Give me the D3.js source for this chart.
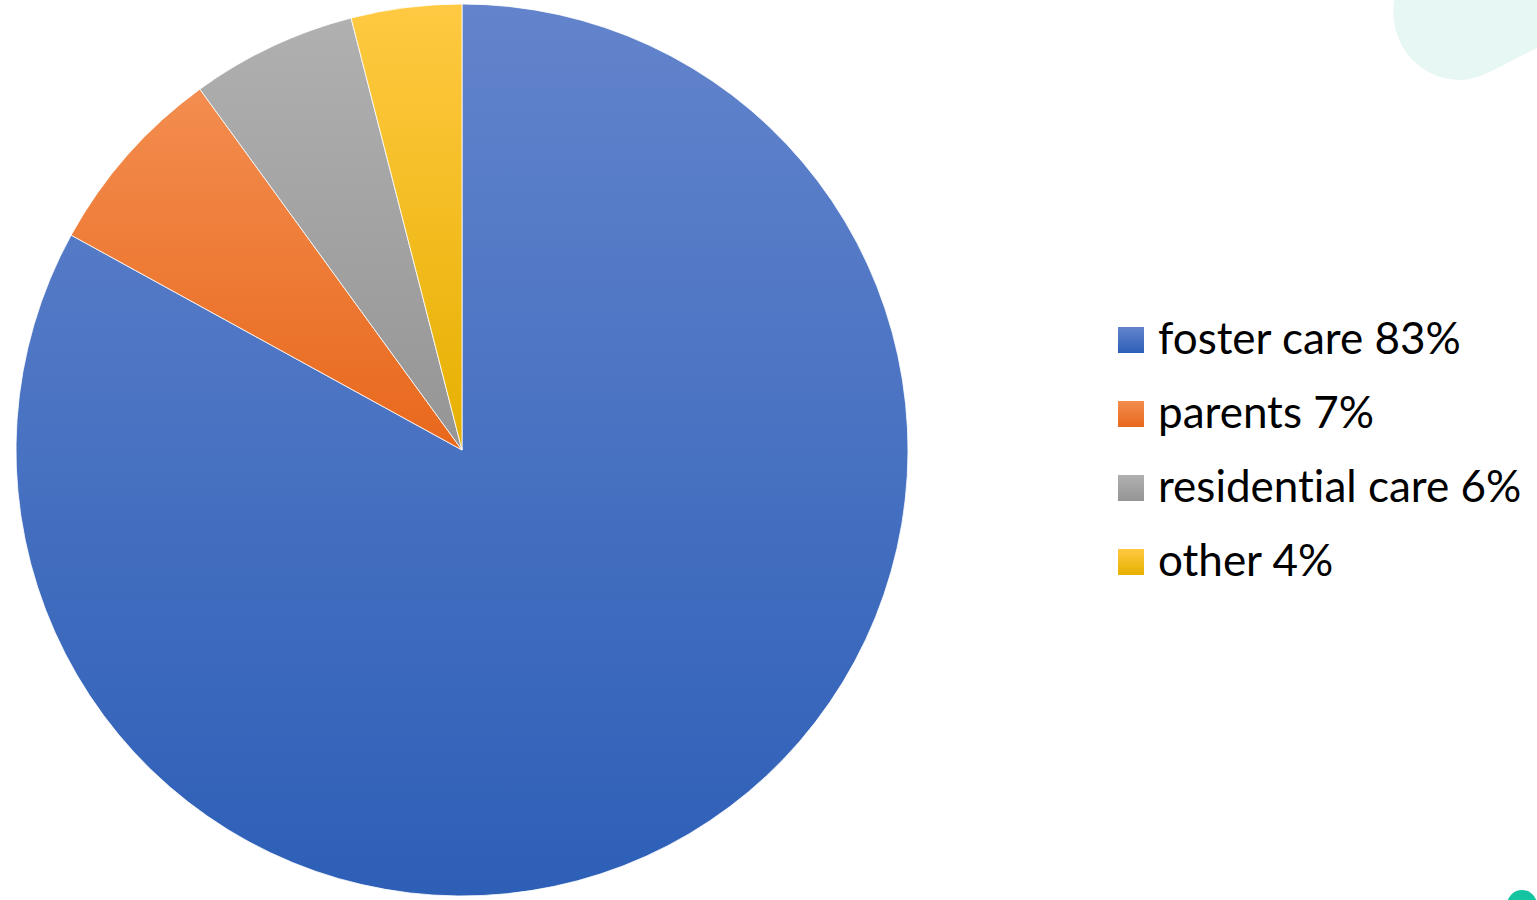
<!DOCTYPE html>
<html>
<head>
<meta charset="utf-8">
<script src="https://cdn.jsdelivr.net/npm/d3@7"></script>
<style>
  body { margin: 0; background: #fff; overflow: hidden; }
  svg { display: block; }
  text { font-variant-ligatures: none; font-feature-settings: "liga" 0, "clig" 0; }
</style>
</head>
<body>
<div id="chart-area"></div>
<script>
// data
const categories = ["foster care", "parents", "residential care", "other"];
const shares = [83, 7, 6, 4];
const legendLabels = ["foster care 83%", "parents 7%", "residential care 6%", "other 4%"];
// top / bottom colours of each slice gradient
const topColors = ["#6384cc", "#f38d4f", "#b0b0b0", "#ffc942"];
const bottomColors = ["#2d5fb7", "#e8681c", "#959595", "#e6b000"];

const canvasWidth = 1537;
const canvasHeight = 900;
const cx = 462, cy = 450, radius = 446;

var svg = d3.select("#chart-area")
    .append("svg")
        .attr("width", canvasWidth)
        .attr("height", canvasHeight);

var defs = svg.append("defs");

// gradients (vertical, light at the top)
categories.forEach((c, i) => {
    var g = defs.append("linearGradient")
        .attr("id", "grad" + i)
        .attr("x1", 0).attr("y1", 0)
        .attr("x2", 0).attr("y2", 1);
    g.append("stop").attr("offset", "0%").attr("stop-color", topColors[i]);
    g.append("stop").attr("offset", "100%").attr("stop-color", bottomColors[i]);
});

// decoration top right
svg.append("path")
    .attr("d", "M1394,0 C1388,45 1420,80 1460,80 C1480,80 1500,66 1537,48 L1537,0 Z")
    .attr("fill", "#e7f7f3");

// decoration bottom right
svg.append("circle")
    .attr("cx", 1522).attr("cy", 905).attr("r", 15)
    .attr("fill", "#14c3a0");

// pie
var pie = d3.pie().sort(null).value(d => d);
var arc = d3.arc().innerRadius(0).outerRadius(radius);

var main = svg.append("g")
    .attr("transform", "translate(" + cx + "," + cy + ")");

main.selectAll("path.slice")
    .data(pie(shares))
    .enter()
    .append("path")
        .attr("class", "slice")
        .attr("d", arc)
        .attr("fill", (d, i) => "url(#grad" + i + ")")
        .attr("stroke", "#ffffff")
        .attr("stroke-width", 0.8)
        .attr("stroke-linejoin", "round");

// legend
var legend = svg.append("g")
    .attr("transform", "translate(1118, 327)");

legendLabels.forEach((label, i) => {
    var row = legend.append("g")
        .attr("transform", "translate(0," + (i * 74) + ")");
    row.append("rect")
        .attr("width", 26)
        .attr("height", 26)
        .attr("fill", "url(#grad" + i + ")");
    row.append("text")
        .attr("x", 40)
        .attr("y", 27)
        .attr("font-family", "Lato, 'Noto Sans', sans-serif")
        .attr("font-size", "44px")
        .attr("fill", "#000")
        .text(label);
});
</script>
</body>
</html>
